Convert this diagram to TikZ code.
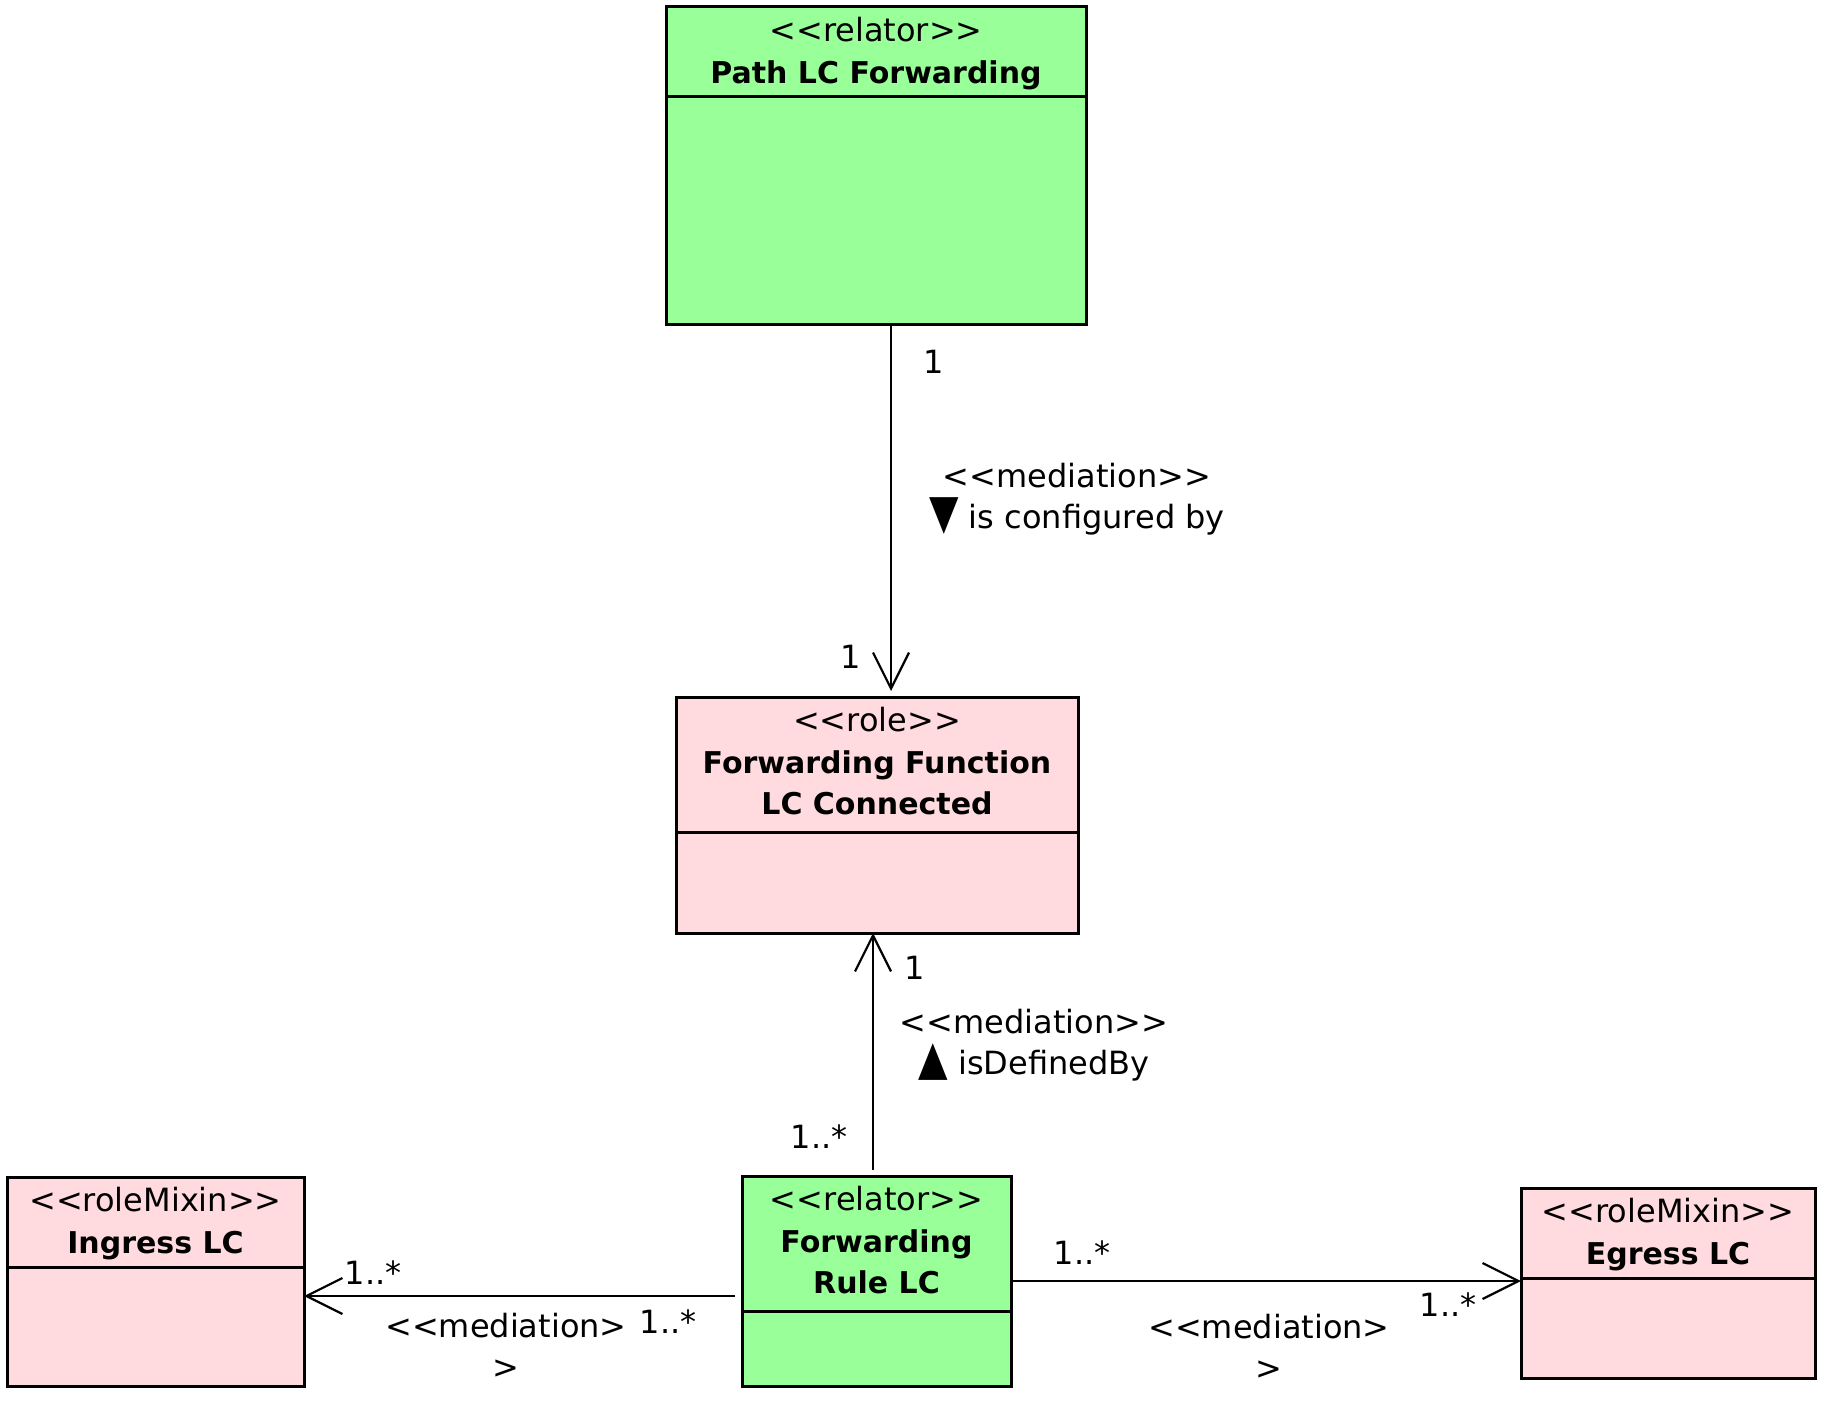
\documentclass[tikz,border=0pt]{standalone}
\usepackage{fontspec}
\setmainfont{DejaVu Sans}[Ligatures=TeXOff]
\usetikzlibrary{arrows.meta,positioning}
\definecolor{relatorgreen}{RGB}{153,255,153}
\definecolor{rolepink}{RGB}{255,218,222}
\tikzset{
	classbox/.style={draw, line width=1.5pt, inner sep=0pt, outer sep=0pt},
	classtext/.style={align=center, inner sep=0pt, font={\fontsize{16}{20.75}\selectfont}},
	assoc/.style={line width=1.1pt, -{Straight Barb[length=18pt,width=18pt]}},
	mult/.style={inner sep=0pt, font={\fontsize{16}{20.75}\selectfont}},
}
\newcommand{\classname}[1]{{\fontsize{15}{20.75}\selectfont\bfseries #1}}
\newcommand{\rolearrow}[1]{\scalebox{1.2}[1.5]{#1}}
\begin{document}
\begin{tikzpicture}[x=0.5pt,y=-0.5pt]
	\useasboundingbox (0,0) rectangle (1827,1413);
	% class boxes
	\node[classbox, fill=relatorgreen, minimum width=210pt, minimum height=158.5pt] (plc) at (876,165.5) {};
	\node[classbox, fill=rolepink, minimum width=201pt, minimum height=118pt] (ffc) at (877,815) {};
	\node[classbox, fill=relatorgreen, minimum width=134.5pt, minimum height=105pt] (frl) at (876.5,1281) {};
	\node[classbox, fill=rolepink, minimum width=148.5pt, minimum height=104.5pt] (ing) at (155.5,1281.5) {};
	\node[classbox, fill=rolepink, minimum width=147pt, minimum height=95pt] (egr) at (1668,1283) {};
	\foreach \cls/\y in {plc/97,ffc/832,frl/1311,ing/1267,egr/1278}
		\draw[line width=1.5pt] (\cls.west |- 0,\y) -- (\cls.east |- 0,\y);
	\node[classtext, anchor=north] (plcname) at ([yshift=-5pt]plc.north) {<<relator>>\\\classname{Path LC Forwarding}};
	\node[classtext, anchor=north] (ffcname) at ([yshift=-5pt]ffc.north) {<<role>>\\\classname{Forwarding Function}\\\classname{LC Connected}};
	\node[classtext, anchor=north] (frlname) at ([yshift=-5pt]frl.north) {<<relator>>\\\classname{Forwarding}\\\classname{Rule LC}};
	\node[classtext, anchor=north] (ingname) at ([yshift=-5pt]ing.north) {<<roleMixin>>\\\classname{Ingress LC}};
	\node[classtext, anchor=north] (egrname) at ([yshift=-5pt]egr.north) {<<roleMixin>>\\\classname{Egress LC}};
	% mediations
	\draw[assoc, shorten >=3pt] ([xshift=7.5pt]plc.south) -- ([xshift=7.5pt]plc.south |- ffc.north);
	\draw[assoc, shorten <=3pt] ([xshift=-1.75pt]frl.north) -- ([xshift=-1.75pt]frl.north |- ffc.south);
	\draw[assoc, shorten <=3.5pt] ([yshift=-7.5pt]frl.west) -- ([yshift=-7.5pt]frl.west -| ing.east);
	\draw[assoc] (frl.east) -- (frl.east -| egr.west);
	\node[mult] (plcone) at (934,362) {1};
	\node[mult] (ffctopone) at (851,657) {1};
	\node[mult, align=center] (configlabel) at (1077,499) {<<mediation>>\\\rolearrow{▼} is configured by};
	\node[mult] (ffcbotone) at (915,968) {1};
	\node[mult, align=center] (definedlabel) at (1034,1045) {<<mediation>>\\\rolearrow{▲} isDefinedBy};
	\node[mult] (frltopmany) at (819,1137) {1..*};
	\node[mult] (ingmany) at (373,1273) {1..*};
	\node[mult] (frlleftmany) at (668,1322) {1..*};
	\node[mult, align=center] (inglabel) at (506,1346) {<<mediation>\\>};
	\node[mult] (frlrightmany) at (1082,1253) {1..*};
	\node[mult] (egrmany) at (1448,1305) {1..*};
	\node[mult, align=center] (egrlabel) at (1269,1347) {<<mediation>\\>};
\end{tikzpicture}
\end{document}
